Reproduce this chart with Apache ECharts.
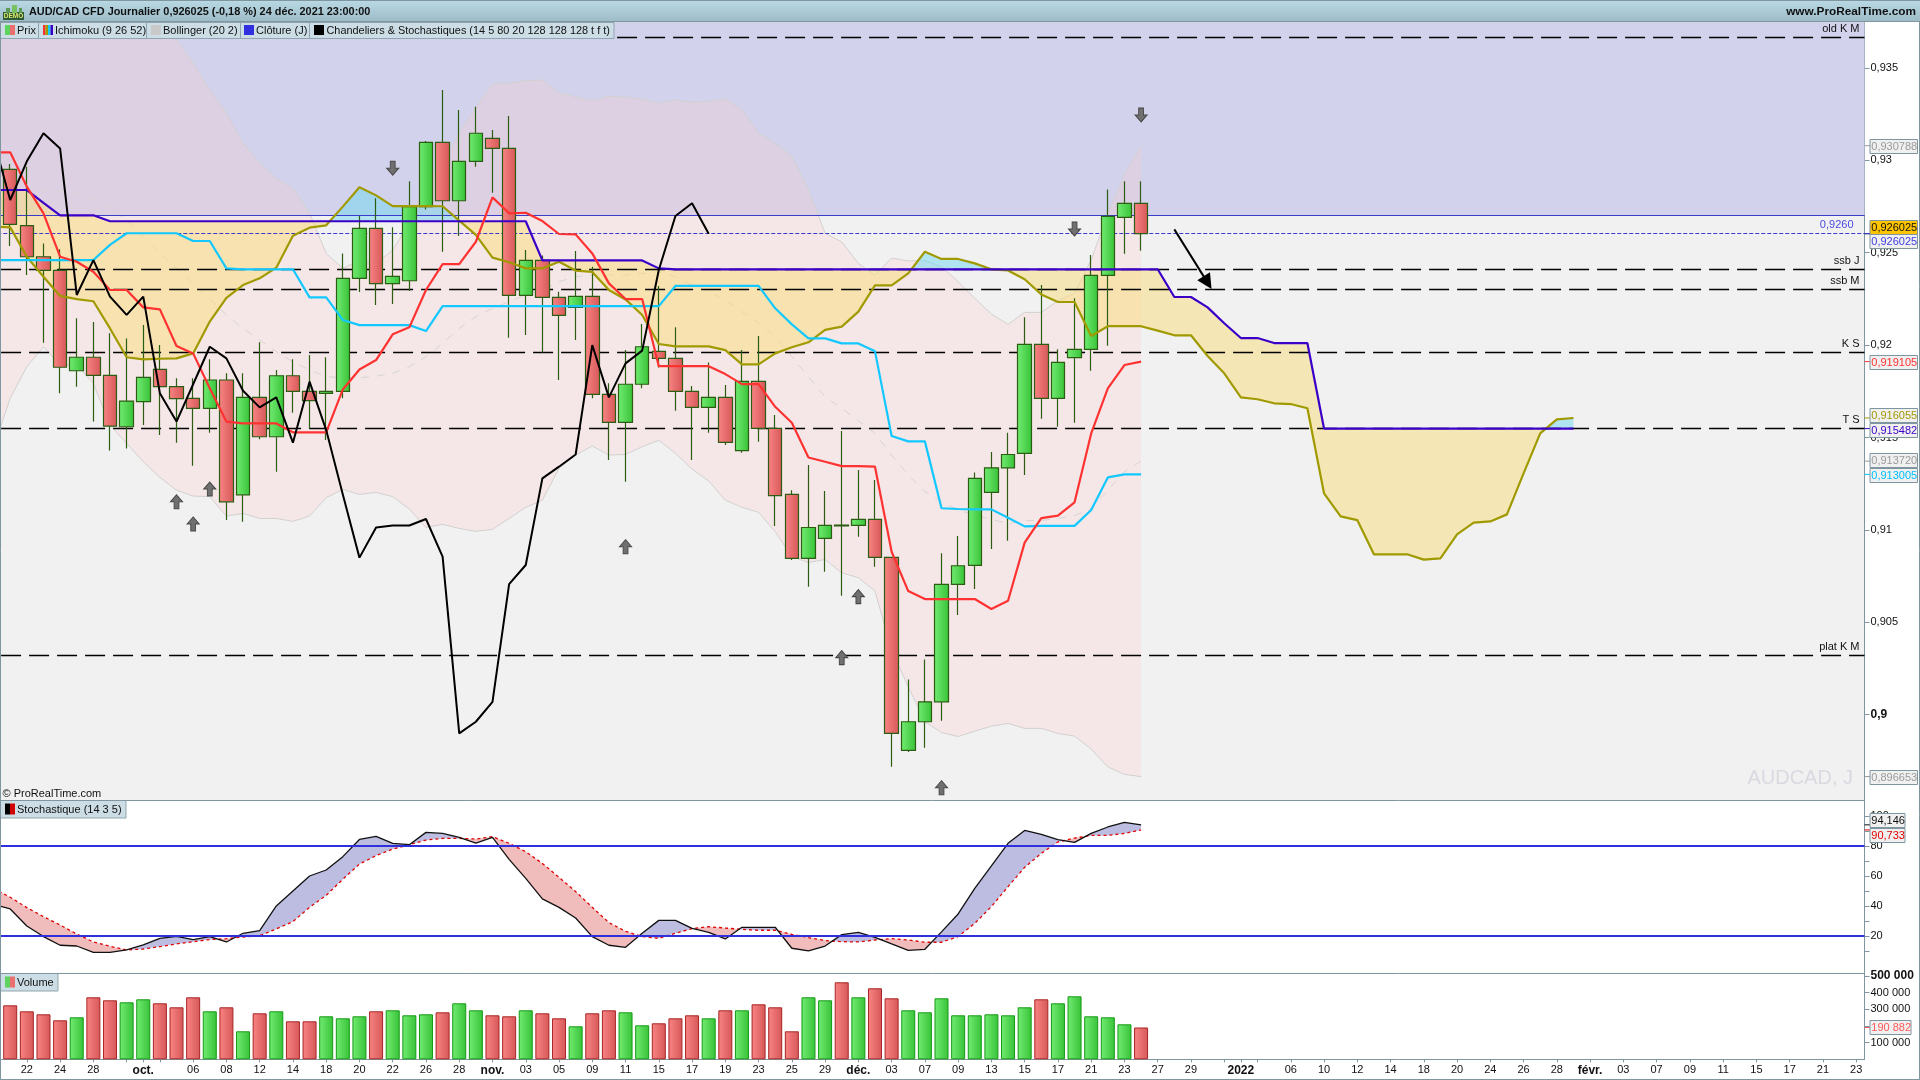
<!DOCTYPE html>
<html><head><meta charset="utf-8">
<style>html,body{margin:0;padding:0;background:#fff}#c{width:1920px;height:1080px}</style>
<script src="https://cdn.jsdelivr.net/npm/echarts@6/dist/echarts.min.js"></script>
</head><body><div id="c"></div>
<script>
// x slots: first slot is the session just before the left edge of the window
const dateLabels = ['','','22','','24','','28','',' ','oct.',' ','','06','','08','','12','','14','','18','','20','','22','','26','','28','','nov.','','03','','05','','09','','11','','15','','17','','19','','23','','25','','29','','déc.','','03','','07','','09','','13','','15','','17','','21','','23','','27','','29','',' ','2022',' ','','06','','10','','12','','14','','18','','20','','24','','26','','28','','févr.','','03','','07','','09','','11','','15','','17','','21','','23'];
const boldLabels = ['oct.','nov.','déc.','2022','févr.'];

const opens  = [.92951,.92646,.92478,.92404,.91861,.91934,.91836,.91558,.91694,.91868,.91775,.91712,.91658,.91811,.91190,.91717,.91504,.91834,.91749,.91739,.91749,.92361,.92631,.92332,.92348,.92749,.93097,.92781,.92994,.93118,.93064,.92269,.92458,.92258,.92204,.92263,.91733,.91582,.91788,.91966,.91928,.91749,.91663,.91717,.91429,.91804,.91549,.91192,.90846,.90954,.91026,.91024,.91057,.90851,.89807,.89962,.90070,.90705,.90808,.91203,.91336,.91414,.92004,.91712,.91932,.91977,.92377,.92691,.92767];
const closes = [.92653,.92478,.92404,.91880,.91934,.91836,.91562,.91697,.91825,.91775,.91710,.91658,.91811,.91152,.91717,.91504,.91834,.91749,.91699,.91749,.92361,.92631,.92332,.92372,.92749,.93097,.92781,.92994,.93146,.93064,.92269,.92458,.92258,.92161,.92263,.91733,.91582,.91788,.91991,.91928,.91749,.91663,.91717,.91474,.91804,.91549,.91185,.90846,.91013,.91024,.91022,.91057,.90851,.89899,.89962,.90070,.90705,.90806,.91279,.91336,.91408,.92004,.91712,.91906,.91977,.92377,.92696,.92767,.926025];
const lows   = [.92536,.92379,.92013,.91739,.91775,.91586,.91429,.91441,.91567,.91513,.91472,.91347,.91526,.91053,.91044,.91491,.91315,.91634,.91549,.91486,.91712,.92287,.92217,.92222,.92292,.92734,.92505,.92590,.92965,.92824,.92040,.92054,.91960,.91811,.92027,.91712,.91378,.91261,.91766,.91878,.91645,.91378,.91526,.91459,.91418,.91477,.91021,.90837,.90692,.90773,.90644,.90963,.90800,.89718,.89798,.89821,.89967,.90539,.90680,.90896,.90941,.91297,.91601,.91558,.91580,.91861,.91997,.92494,.92511];
const highs  = [.92980,.92965,.92550,.92518,.92145,.92125,.92064,.92036,.92108,.92000,.91820,.91820,.91923,.91847,.91847,.92015,.91865,.91923,.91946,.91934,.92496,.92698,.92794,.92637,.92886,.93104,.93380,.93272,.93290,.93164,.93239,.92514,.92485,.92289,.92509,.92424,.91793,.91973,.92114,.92320,.92096,.91779,.91906,.91784,.91973,.92049,.91622,.91215,.91351,.91210,.91535,.91324,.91270,.90855,.90191,.90299,.90873,.90967,.91311,.91421,.91526,.92150,.92325,.91977,.92253,.92487,.92842,.92886,.92886];

const tenkan = [.93043,.93043,.92857,.92713,.92478,.92451,.92397,.92298,.92298,.92204,.92193,.91995,.91955,.91766,.91586,.91576,.91576,.91576,.91528,.91528,.91528,.91760,.91868,.91919,.92058,.92096,.92298,.92438,.92438,.92559,.92799,.92713,.92716,.92671,.92601,.92599,.92496,.92334,.92249,.92249,.91886,.91886,.91886,.91886,.91843,.91789,.91789,.91666,.91580,.91392,.91369,.91345,.91345,.91342,.90882,.90669,.90626,.90626,.90626,.90626,.90572,.90617,.90931,.91064,.91077,.91149,.91522,.91766,.91892,.919105];
const kijun = [.92460,.92460,.92460,.92460,.92460,.92460,.92460,.92542,.92605,.92605,.92605,.92605,.92563,.92563,.92415,.92410,.92410,.92410,.92410,.92258,.92258,.92136,.92108,.92108,.92108,.92108,.92076,.92211,.92211,.92211,.92211,.92211,.92211,.92211,.92211,.92211,.92211,.92211,.92211,.92211,.92211,.92320,.92320,.92320,.92320,.92320,.92320,.92199,.92112,.92036,.92036,.92009,.92009,.91966,.91508,.91479,.91479,.91117,.91113,.91111,.91111,.91066,.91019,.91022,.91022,.91022,.91108,.91284,.91300,.913005];
const senkouA = [.92641,.92637,.92478,.92370,.92266,.92249,.92237,.92090,.91934,.91923,.91926,.91928,.91955,.92127,.92256,.92325,.92361,.92419,.92592,.92635,.92648,.92749,.92854,.92810,.92752,.92752,.92752,.92751,.92673,.92596,.92473,.92448,.92415,.92415,.92451,.92403,.92396,.92298,.92247,.92163,.92006,.91993,.91993,.91993,.91973,.91896,.91896,.91955,.91988,.92015,.92082,.92100,.92181,.92323,.92323,.92388,.92505,.92466,.92466,.92442,.92410,.92404,.92356,.92274,.92233,.92233,.92049,.92102,.92102,.92102,.92078,.92053,.92053,.91941,.91847,.91717,.91707,.91685,.91681,.91658,.91198,.91073,.91053,.90868,.90868,.90868,.90839,.90846,.90976,.91039,.91046,.91084,.91306,.91522,.91598,.916055];
const senkouB = [.92839,.92839,.92839,.92770,.92702,.92702,.92702,.92670,.92670,.92670,.92670,.92670,.92670,.92670,.92670,.92670,.92670,.92670,.92670,.92670,.92670,.92670,.92670,.92670,.92670,.92670,.92670,.92670,.92670,.92670,.92670,.92670,.92670,.92458,.92458,.92458,.92458,.92458,.92458,.92458,.92415,.92410,.92410,.92410,.92410,.92410,.92410,.92410,.92410,.92410,.92410,.92410,.92410,.92410,.92410,.92410,.92410,.92410,.92410,.92410,.92410,.92410,.92410,.92410,.92410,.92410,.92410,.92410,.92410,.92410,.92410,.92260,.92260,.92204,.92118,.92038,.92038,.92011,.92011,.92011,.915482,.915482,.915482,.915482,.915482,.915482,.915482,.915482,.915482,.915482,.915482,.915482,.915482,.915482,.915482,.915482];
const chikou = [.93110,.92785,.92994,.93146,.93064,.92271,.92460,.92262,.92163,.92262,.91739,.91586,.91788,.91991,.91928,.91753,.91663,.91717,.91472,.91802,.91540,.91192,.90850,.91013,.91024,.91024,.91059,.90855,.89899,.89962,.90070,.90707,.90810,.91279,.91342,.91408,.92000,.91717,.91901,.91970,.92406,.92698,.92767,.92602];

const bollUp = [.9420,.9420,.9425,.9430,.9435,.9440,.9435,.9425,.9415,.9405,.9382,.93655,.93525,.93380,.93254,.93092,.92984,.92902,.92848,.92713,.92496,.92415,.92457,.92442,.92514,.92659,.92893,.92984,.93146,.93287,.93413,.93416,.93431,.93434,.93362,.93344,.93321,.93346,.93341,.93330,.93308,.93326,.93313,.93317,.93331,.93272,.93146,.93091,.93020,.92839,.92605,.92559,.92442,.92377,.92471,.92455,.92457,.92424,.92343,.92253,.92168,.92112,.92177,.92177,.92240,.92280,.92460,.92713,.92920,.930788];
const bollLow = [.91445,.91712,.91883,.91991,.91892,.91892,.91793,.91567,.91468,.91369,.91284,.91215,.91183,.91180,.91075,.91089,.91062,.91062,.91046,.91075,.91174,.91219,.91192,.91203,.91180,.91113,.91013,.91030,.91008,.90992,.91003,.91062,.91122,.91161,.91333,.91405,.91454,.91405,.91408,.91450,.91485,.91414,.91329,.91264,.91161,.91122,.91095,.90990,.90855,.90824,.90840,.90768,.90741,.90669,.90350,.90151,.89962,.89904,.89882,.89911,.89938,.89953,.89926,.89926,.89899,.89884,.89814,.89718,.89677,.896653];
const bollMid = [.92785,.92803,.92830,.92842,.92833,.92817,.92794,.92740,.92677,.92586,.92496,.92415,.92334,.92249,.92163,.92090,.92027,.91964,.91910,.91865,.91829,.91823,.91823,.91832,.91847,.91883,.91937,.92009,.92090,.92154,.92199,.92235,.92271,.92298,.92343,.92370,.92379,.92379,.92379,.92388,.92397,.92370,.92325,.92289,.92244,.92181,.92118,.92045,.91937,.91829,.91721,.91658,.91591,.91522,.91405,.91297,.91207,.91152,.91108,.91080,.91057,.91035,.91050,.91051,.91062,.91077,.91117,.91215,.91315,.91372];

const stochK = [41.1,38.0,26.7,19.6,13.8,13.3,9.1,9.1,10.7,14.0,18.4,19.8,17.6,19.6,16.0,21.8,23.6,40.0,50.0,60.0,64.0,72.9,84.4,86.4,81.8,80.9,89.1,88.4,85.8,82.0,85.8,71.1,58.4,44.7,39.1,32.0,19.6,13.8,12.4,21.8,30.4,30.4,25.1,22.4,18.0,25.8,25.8,25.8,11.8,10.0,13.3,20.9,22.4,19.1,14.7,10.4,11.1,22.7,34.7,51.8,66.7,81.8,90.4,87.8,84.2,82.4,88.4,92.7,95.8,94.146];
const stochD = [51.6,45.8,38.9,32.9,27.3,21.3,16.0,13.1,10.7,11.3,12.9,14.7,16.2,17.6,18.2,19.3,20.2,24.7,29.6,39.1,47.1,57.8,68.0,73.6,78.0,80.9,84.0,85.1,85.1,84.7,86.2,81.8,76.2,68.4,59.1,49.6,39.1,28.9,23.1,19.6,18.4,21.8,24.9,26.2,25.3,24.4,23.8,23.8,21.1,18.9,16.9,16.2,16.0,17.3,18.2,17.3,15.8,15.8,19.6,28.4,39.6,52.9,65.8,75.1,82.7,85.3,87.1,87.1,88.4,90.733];

const volumes = [324000,288000,270000,234000,252000,372000,354000,342000,360000,336000,312000,372000,288000,312000,168000,276000,288000,228000,228000,258000,246000,258000,288000,294000,264000,270000,282000,336000,294000,264000,258000,294000,276000,246000,198000,276000,294000,282000,204000,216000,246000,264000,246000,294000,294000,330000,312000,168000,372000,354000,462000,372000,426000,366000,294000,282000,366000,264000,264000,270000,264000,312000,360000,336000,378000,258000,252000,210000,190882];
const volumeUp = [0,0,0,0,1,0,0,1,1,0,0,0,1,0,1,0,1,0,0,1,1,1,0,1,1,1,0,1,1,0,0,1,0,0,1,0,0,1,1,0,0,0,1,0,1,0,0,0,1,1,0,1,0,0,1,1,1,1,1,1,1,1,0,1,1,1,1,1,0];

const levelNames  = ['old K M','ssb J','ssb M','K S','T S','plat K M'];
const levelValues = [.93665,.92410,.92302,.91960,.91549,.90321];
const zoneLevel = .92702;
const closeLevel = .926025;
const closeLevelText = '0,9260';
const upArrowPoints   = [[11,.91152],[13,.91221],[12,.91032],[38,.90909],[52,.90639],[51,.90309],[57,.89605]];
const downArrowPoints = [[24,.92957],[69,.93245],[65,.92628]];
const trendFrom = [71,.92626], trendTo = [73,.92338];

const priceTicks = [.9,.905,.91,.915,.92,.925,.93,.935];
const stochTicks = [20,40,60,80,100];
const stochMinorTicks = [10,20,30,40,50,60,70,80,90,100];
const volumeTicks = [100000,200000,300000,400000,500000];
const stochLevels = [80,20];
const priceTags  = [.930788,.926025,.926025,.919105,.916055,.915482,.91372,.913005,.896653];
const priceTagShift = [0,-7,7,0,-3,1.5,-1,1,0];
const priceTagColor = ['#9a9a9a','#111','#4040e0','#ff3030','#a09a00','#3b00c8','#9a9a9a','#00c0ff','#9a9a9a'];
const priceTagFill  = ['#f0f0f0','#ffc400','#f0f0f0','#f0f0f0','#f0f0f0','#f0f0f0','#f0f0f0','#f0f0f0','#f0f0f0'];
const stochTags = [94.146,90.733], stochTagShift=[-5,5], stochTagColor=['#111','#e00000'];
const volumeTags = [190882], volumeTagColor=['#ff5a5a'];

const FONT = '"Liberation Sans", Arial, sans-serif';
const EDGE = '#7f96a0';
const grad=(a,b)=>new echarts.graphic.LinearGradient(0,0,1,0,[{offset:0,color:a},{offset:1,color:b}]);
const GL=grad('#72ec72','#38c238'), RL=grad('#f98484','#d65858');
const gridL=-14.73, gridW=1879.23;
const grids=[{top:22,h:778.3,bg:'#f1f1f1'},{top:800.3,h:173,bg:'#fff'},{top:973.3,h:86,bg:'#fff'}];

const tf=v=>String(v).replace('.',',');
function between(api,a,b,colA,colB){
  const n=Math.min(a.length,b.length),kids=[];
  let top=[],bot=[],cur=null;
  const flush=c=>{ if(top.length>1) kids.push({type:'polygon',shape:{points:top.concat(bot.slice().reverse())},style:{fill:c}}); };
  for(let k=0;k<n;k++){
    const pa=api.coord([k,a[k]]),pb=api.coord([k,b[k]]);
    const d=a[k]-b[k]; const s=d===0?cur:(d>0?1:-1);
    if(cur!==null&&s!==cur){
      const pd=a[k-1]-b[k-1],t=pd/(pd-d),
        px=top[top.length-1][0]+(pa[0]-top[top.length-1][0])*t,
        py=top[top.length-1][1]+(pa[1]-top[top.length-1][1])*t;
      top.push([px,py]);bot.push([px,py]);
      flush(cur>0?colA:colB);top=[[px,py]];bot=[[px,py]];
    }
    top.push(pa);bot.push(pb);cur=s;
  }
  flush(cur>0?colA:colB);
  return {type:'group',children:kids};
}
function tagSeries(xi,yi,vals,shift,cols,fills,w,fmt){
  return {type:'custom',xAxisIndex:xi,yAxisIndex:yi,z:30,silent:true,clip:false,data:vals.map(v=>[0,v]),
    renderItem:(p,api)=>{
      const i=p.dataIndex,cs=p.coordSys,R=cs.x+cs.width,y0=api.coord([0,vals[i]])[1],y=y0+(shift?shift[i]:0);
      return {type:'group',children:[
        {type:'line',shape:{x1:R,y1:y0,x2:R+5.5,y2:y0},style:{stroke:cols[i],lineWidth:1}},
        {type:'rect',shape:{x:R+5.5,y:Math.round(y-7)+.5,width:w,height:14},style:{fill:fills?fills[i]:'#f0f0f0',stroke:EDGE,lineWidth:1}},
        {type:'text',style:{x:R+6.8,y:Math.round(y-7)+7.5,text:fmt(vals[i]),fill:cols[i],font:'11px '+FONT,textVerticalAlign:'middle'}}
      ]};
    }};
}
const line=(data,color,width,z,extra)=>Object.assign({type:'line',data,xAxisIndex:0,yAxisIndex:0,showSymbol:false,symbol:'none',z,silent:true,
  lineStyle:{color,width},connectNulls:false},extra||{});
const DASH={type:[20,8],dashOffset:12.17};
const ARROW='path://M6 0 L12 7 L8.4 7 L8.4 14 L3.6 14 L3.6 7 L0 7 Z';
const arrowSeries=(pts,rot)=>({type:'scatter',xAxisIndex:0,yAxisIndex:0,data:pts,symbol:ARROW,symbolSize:[12,14],symbolRotate:rot,z:12,silent:true,
  itemStyle:{color:'#707070',borderColor:'#474747',borderWidth:1,opacity:1}});

const series=[
 {type:'custom',xAxisIndex:0,yAxisIndex:0,z:1,silent:true,clip:true,data:[[0,zoneLevel]],
  renderItem:(p,api)=>{const c=p.coordSys,y=api.coord([0,zoneLevel])[1];
    return {type:'group',children:[{type:'rect',shape:{x:c.x,y:c.y,width:c.width,height:y-c.y},style:{fill:'#d2d2ec'}}]};}},
 {type:'custom',xAxisIndex:0,yAxisIndex:0,z:2,silent:true,clip:true,data:[[0,bollUp[0]]],
  renderItem:(p,api)=>between(api,bollUp,bollLow,'rgba(255,205,205,0.27)','rgba(255,205,205,0.27)')},
 line(bollUp,'#d3d0d0',1,3),line(bollLow,'#d3d0d0',1,3),
 line(bollMid,'#d6d3d3',1,3,{lineStyle:{color:'#d6d3d3',width:1,type:[8,8]}}),
 {type:'custom',xAxisIndex:0,yAxisIndex:0,z:4,silent:true,clip:true,data:[[0,senkouA[0]]],
  renderItem:(p,api)=>between(api,senkouA,senkouB,'rgba(111,215,239,0.5)','rgba(249,221,121,0.5)')},
 line([null],'#000',1,5,{markLine:{silent:true,symbol:'none',animation:false,z:5,precision:6,
   data:levelNames.map((n,i)=>({name:n,yAxis:levelValues[i],lineStyle:{color:'#000',width:1.3,type:DASH.type,dashOffset:DASH.dashOffset},
     label:{show:true,position:'insideEndTop',formatter:n,color:'#111',fontFamily:FONT,fontSize:11,distance:[5,3]}}))}}),
 {type:'candlestick',xAxisIndex:0,yAxisIndex:0,z:6,silent:true,barWidth:14,
  data:[['-','-','-','-']].concat(opens.map((o,i)=>[o,closes[i],lows[i],highs[i]])),
  itemStyle:{color:GL,color0:RL,borderColor:'#2b5d12',borderColor0:'#2b5d12',borderWidth:1.2}},
 line([null],'#000',1,7,{markLine:{silent:true,symbol:'none',animation:false,precision:6,
   data:[{name:'z',yAxis:zoneLevel,lineStyle:{color:'#3a3acb',width:1.2,type:'solid'},label:{show:false}},
      {name:'c',yAxis:closeLevel,lineStyle:{color:'#3a3acb',width:1.1,type:[4,2]},
       label:{show:true,position:'insideEndTop',formatter:closeLevelText,color:'#4a4ae0',fontFamily:FONT,fontSize:11,distance:[11,3]}}]}}),
 line(senkouA,'#a09a00',2.2,8),line(senkouB,'#3b00c8',2.2,8),
 line(kijun,'#12c8ff',2.2,8),line(tenkan,'#ff3232',2.2,8),
 line(chikou,'#000',2,9,{markLine:{silent:true,animation:false,precision:6,symbol:['none','triangle'],symbolSize:15,
   data:[[{coord:trendFrom},{coord:trendTo}]],lineStyle:{color:'#000',width:2,type:'solid'},label:{show:false}}}),
 arrowSeries(upArrowPoints,0),arrowSeries(downArrowPoints,180),
 tagSeries(0,0,priceTags,priceTagShift,priceTagColor,priceTagFill,47.5,v=>v.toFixed(6).replace('.',',')),

 {type:'custom',xAxisIndex:1,yAxisIndex:1,z:2,silent:true,clip:true,data:[[0,stochK[0]]],
  renderItem:(p,api)=>between(api,stochK,stochD,'#bcbde0','#f0bcbc')},
 Object.assign(line(stochD,'#e00000',1.3,3,{lineStyle:{color:'#e00000',width:1.3,type:[3,3]}}),{xAxisIndex:1,yAxisIndex:1}),
 Object.assign(line(stochK,'#111',1.3,4),{xAxisIndex:1,yAxisIndex:1}),
 Object.assign(line([null],'#000',1,5,{markLine:{silent:true,symbol:'none',animation:false,
   data:stochLevels.map(v=>({yAxis:v})),lineStyle:{color:'#2f2fdd',width:2.2,type:'solid'},label:{show:false}}}),{xAxisIndex:1,yAxisIndex:1}),
 tagSeries(1,1,stochTags,stochTagShift,stochTagColor,null,35,v=>v.toFixed(3).replace('.',',')),

 {type:'bar',xAxisIndex:2,yAxisIndex:2,z:2,silent:true,barWidth:14,
  data:[null].concat(volumes.map((v,i)=>({value:v,itemStyle:{color:volumeUp[i]?GL:RL,borderColor:volumeUp[i]?'#159a15':'#a82424',borderWidth:1}})))},
 tagSeries(2,2,volumeTags,null,volumeTagColor,null,41,v=>String(v).replace(/(\d{3})$/,' $1')),
];

const yLabel={color:'#111',fontFamily:FONT,fontSize:11,margin:6};
const xAxis=grids.map((g,i)=>({type:'category',gridIndex:i,data:dateLabels,boundaryGap:true,show:i===2,
  axisLine:{show:i===2,lineStyle:{color:EDGE,width:1}},
  axisTick:{show:i===2,alignWithLabel:true,length:3,interval:(idx,v)=>v!=='',lineStyle:{color:EDGE}},
  axisLabel:{show:i===2,interval:0,margin:5,color:'#111',fontFamily:FONT,fontSize:11,hideOverlap:false,
    formatter:v=>boldLabels.includes(v)?'{b|'+v+'}':v,
    rich:{b:{fontWeight:'bold',fontSize:12,fontFamily:FONT,color:'#111'}}}}));
const axisCommon={position:'right',splitLine:{show:false},axisLine:{show:true,onZero:false,lineStyle:{color:EDGE,width:1}}};
const yAxis=[
 Object.assign({},axisCommon,{type:'value',gridIndex:0,min:.89537,max:.93748,
   axisTick:{show:true,length:5,customValues:priceTicks,lineStyle:{color:EDGE}},
   axisLabel:Object.assign({},yLabel,{customValues:priceTicks,formatter:v=>v===.9?'{b|0,9}':tf(v),rich:{b:{fontWeight:'bold',fontSize:12,fontFamily:FONT,color:'#111'}}})}),
 Object.assign({},axisCommon,{type:'value',gridIndex:1,min:-4.9,max:110.5,
   axisTick:{show:true,length:5,customValues:stochMinorTicks,lineStyle:{color:EDGE}},
   axisLabel:Object.assign({},yLabel,{customValues:stochTicks})}),
 Object.assign({},axisCommon,{type:'value',gridIndex:2,min:0,max:516000,
   axisTick:{show:true,length:5,customValues:volumeTicks,lineStyle:{color:EDGE}},
   axisLabel:Object.assign({},yLabel,{customValues:volumeTicks,
     formatter:v=>v===500000?'{b|500 000}':String(v).replace(/(\d{3})$/,' $1'),rich:{b:{fontWeight:'bold',fontSize:12,fontFamily:FONT,color:'#111'}}})})
];

const Z=1000;
const rect=(x,y,w,h,fill,stroke)=>({type:'rect',z:Z,silent:true,shape:{x,y,width:w,height:h},style:{fill,stroke:stroke||null,lineWidth:1}});
const hline=(x1,x2,y,c)=>({type:'line',z:Z+3,silent:true,shape:{x1,y1:y,x2,y2:y},style:{stroke:c||EDGE,lineWidth:1}});
const vline=(x,y1,y2,c)=>({type:'line',z:Z+3,silent:true,shape:{x1:x,y1,x2:x,y2},style:{stroke:c||EDGE,lineWidth:1}});
const text=(x,y,t,o)=>({type:'text',z:Z+2,silent:true,style:Object.assign({x,y,text:t,fill:'#111',font:'11px '+FONT,textVerticalAlign:'middle'},o||{})});
const TAB='#ccdde5';
const headG=new echarts.graphic.LinearGradient(0,0,0,1,[{offset:0,color:'#b9d9e5'},{offset:1,color:'#9dbcc7'}]);
const tab=(x,w,y,h)=>rect(x+.5,y+.5,w,h,TAB,'#8fa5af');
const tabsTop=22;
const legendFont='10.9px '+FONT;
const graphicEls=[
 rect(0,0,1920,21.5,headG),
 hline(0,1920,21.5),hline(0,1920,.5),
 // demo badge
 rect(3,12,21,8,'#2c5a35'),rect(6,8,4,5,'#5d9a55'),rect(12,5,5,8,'#78c060'),rect(19,8,3,5,'#5d9a55'),
 text(13.5,16.2,'DEMO',{font:'bold 6.5px '+FONT,fill:'#dfe86a',textAlign:'center'}),
 text(29,12,'AUD/CAD CFD Journalier 0,926025 (-0,18 %) 24 déc. 2021 23:00:00',{font:'bold 10.9px '+FONT}),
 text(1916,12,'www.ProRealTime.com',{font:'bold 11.8px '+FONT,textAlign:'right'}),
 tab(0,38,tabsTop,16),tab(38,108,tabsTop,16),tab(146,94,tabsTop,16),tab(240,69,tabsTop,16),tab(309,304.5,tabsTop,16),
 rect(5,25,5,10,'#5fd35f'),rect(10,25,5,10,'#ec6f6f'),text(17,30.5,'Prix'),
 rect(43,25,2.5,10,'#ff3232'),rect(45.5,25,2.5,10,'#a09a00'),rect(48,25,2.5,10,'#12c8ff'),rect(50.5,25,2.5,10,'#3b00c8'),text(55,30.5,'Ichimoku (9 26 52)'),
 rect(151,25,10,10,'#c9c9c9'),text(163,30.5,'Bollinger (20 2)'),
 rect(244,25,10,10,'#3030e0'),text(256,30.5,'Clôture (J)'),
 rect(314,25,10,10,'#000'),text(326.5,30.5,'Chandeliers & Stochastiques (14 5 80 20 128 128 128 t f t)',{font:legendFont}),
 text(2.5,794,'© ProRealTime.com'),
 text(1853,778,'AUDCAD, J',{font:'20px '+FONT,fill:'#d9d9e2',textAlign:'right'}),
 tab(0,125.5,800,17.5),rect(5,803.5,5,11,'#000'),rect(10,803.5,5,11,'#d00000'),text(17,809.5,'Stochastique (14 3 5)'),
 tab(0,57.5,973,17.5),rect(5,976.5,5,11,'#5fd35f'),rect(10,976.5,5,11,'#ec6f6f'),text(17,982.5,'Volume'),
 hline(0,1864.5,800.5),hline(0,1864.5,973.5),hline(0,1920,1079.5),
 vline(.5,22,1079),vline(1919.5,22,1079)
];

const chart=echarts.init(document.getElementById('c'),null,{renderer:'canvas',width:1920,height:1080});
chart.setOption({
 animation:false,backgroundColor:'#fff',tooltip:{show:false},legend:{show:false},
 grid:grids.map(g=>({left:gridL,width:gridW,top:g.top,height:g.h,containLabel:false,outerBoundsMode:'none',show:true,backgroundColor:g.bg,borderWidth:0})),
 xAxis,yAxis,series,graphic:{elements:graphicEls}
});
</script></body></html>
